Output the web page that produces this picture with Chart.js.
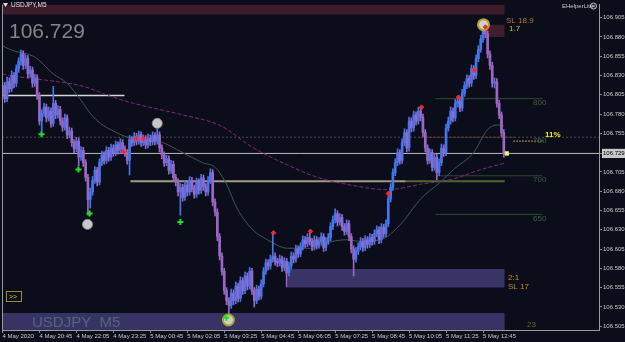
<!DOCTYPE html>
<html>
<head>
<meta charset="utf-8">
<script src="https://cdn.jsdelivr.net/npm/chart.js@4.4.0/dist/chart.umd.min.js"></script>
<style>
  html, body { margin: 0; padding: 0; background: #0c0d1b; }
  #wrap { position: relative; width: 625px; height: 342px; }
</style>
</head>
<body>
<div id="wrap"><canvas id="chart" width="625" height="342"></canvas></div>
<script>
/* ── USDJPY M5 candles, 4 May 19:25 → 5 May 13:30 ── */

const opens = [
  106.806, 106.817, 106.800, 106.822, 106.813, 106.830, 106.820, 106.839, 106.848, 106.858,
  106.843, 106.852, 106.832, 106.837, 106.820, 106.827, 106.804, 106.771, 106.781, 106.789,
  106.775, 106.784, 106.768, 106.794, 106.779, 106.786, 106.771, 106.763, 106.775, 106.753,
  106.758, 106.743, 106.735, 106.745, 106.724, 106.733, 106.717, 106.698, 106.669, 106.679,
  106.694, 106.707, 106.692, 106.717, 106.727, 106.720, 106.733, 106.724, 106.736, 106.730,
  106.740, 106.733, 106.743, 106.735, 106.730, 106.720, 106.747, 106.743, 106.751, 106.745,
  106.753, 106.743, 106.748, 106.740, 106.749, 106.744, 106.752, 106.745, 106.753, 106.736,
  106.727, 106.717, 106.722, 106.707, 106.715, 106.698, 106.692, 106.679, 106.685, 106.672,
  106.688, 106.679, 106.694, 106.684, 106.676, 106.692, 106.681, 106.697, 106.686, 106.679,
  106.694, 106.704, 106.666, 106.653, 106.621, 106.596, 106.576, 106.551, 106.538, 106.532,
  106.548, 106.538, 106.557, 106.541, 106.564, 106.551, 106.570, 106.557, 106.576, 106.551,
  106.538, 106.553, 106.544, 106.560, 106.576, 106.587, 106.583, 106.592, 106.596, 106.589,
  106.587, 106.592, 106.581, 106.589, 106.574, 106.583, 106.596, 106.592, 106.605, 106.599,
  106.608, 106.617, 106.612, 106.620, 106.615, 106.608, 106.617, 106.610, 106.615, 106.621,
  106.607, 106.615, 106.620, 106.634, 106.643, 106.651, 106.640, 106.646, 106.634, 106.628,
  106.638, 106.621, 106.605, 106.592, 106.602, 106.608, 106.615, 106.607, 106.617, 106.611,
  106.620, 106.615, 106.625, 106.630, 106.617, 106.633, 106.625, 106.638, 106.670, 106.685,
  106.704, 106.717, 106.730, 106.720, 106.743, 106.756, 106.736, 106.771, 106.762, 106.779,
  106.771, 106.784, 106.776, 106.756, 106.736, 106.720, 106.730, 106.711, 106.724, 106.704,
  106.717, 106.736, 106.730, 106.762, 106.771, 106.784, 106.775, 106.794, 106.797, 106.788,
  106.807, 106.817, 106.826, 106.820, 106.839, 106.830, 106.852, 106.864, 106.877, 106.890,
  106.884, 106.858, 106.843, 106.820, 106.822, 106.794, 106.779, 106.756
];
const highs = [
  106.823, 106.821, 106.828, 106.827, 106.836, 106.834, 106.844, 106.853, 106.863, 106.862,
  106.857, 106.856, 106.842, 106.841, 106.832, 106.831, 106.808, 106.786, 106.794, 106.793,
  106.789, 106.788, 106.816, 106.798, 106.791, 106.790, 106.775, 106.780, 106.779, 106.763,
  106.762, 106.747, 106.750, 106.749, 106.738, 106.737, 106.721, 106.702, 106.684, 106.699,
  106.712, 106.711, 106.722, 106.732, 106.731, 106.738, 106.737, 106.741, 106.740, 106.745,
  106.744, 106.748, 106.747, 106.739, 106.734, 106.752, 106.751, 106.756, 106.755, 106.758,
  106.757, 106.753, 106.752, 106.754, 106.753, 106.757, 106.756, 106.761, 106.757, 106.740,
  106.731, 106.727, 106.726, 106.720, 106.719, 106.702, 106.696, 106.690, 106.689, 106.693,
  106.692, 106.699, 106.698, 106.688, 106.697, 106.696, 106.702, 106.701, 106.690, 106.699,
  106.709, 106.708, 106.670, 106.657, 106.625, 106.600, 106.580, 106.555, 106.542, 106.553,
  106.552, 106.562, 106.561, 106.569, 106.568, 106.575, 106.574, 106.581, 106.580, 106.555,
  106.558, 106.557, 106.565, 106.581, 106.592, 106.591, 106.597, 106.625, 106.600, 106.593,
  106.597, 106.596, 106.594, 106.593, 106.588, 106.601, 106.600, 106.610, 106.609, 106.613,
  106.622, 106.621, 106.625, 106.626, 106.619, 106.622, 106.621, 106.620, 106.626, 106.625,
  106.620, 106.625, 106.639, 106.648, 106.657, 106.655, 106.651, 106.650, 106.638, 106.643,
  106.642, 106.625, 106.609, 106.607, 106.613, 106.620, 106.619, 106.622, 106.621, 106.625,
  106.624, 106.630, 106.635, 106.634, 106.638, 106.637, 106.643, 106.674, 106.690, 106.709,
  106.722, 106.735, 106.734, 106.748, 106.761, 106.760, 106.776, 106.775, 106.784, 106.783,
  106.789, 106.788, 106.780, 106.760, 106.740, 106.735, 106.734, 106.729, 106.728, 106.722,
  106.741, 106.740, 106.767, 106.776, 106.789, 106.788, 106.799, 106.802, 106.801, 106.812,
  106.822, 106.831, 106.830, 106.844, 106.843, 106.857, 106.869, 106.882, 106.896, 106.895,
  106.888, 106.862, 106.847, 106.827, 106.826, 106.798, 106.783, 106.760
];
const lows = [
  106.800, 106.795, 106.796, 106.808, 106.809, 106.814, 106.816, 106.834, 106.843, 106.838,
  106.839, 106.827, 106.828, 106.815, 106.816, 106.799, 106.766, 106.758, 106.777, 106.770,
  106.771, 106.763, 106.764, 106.774, 106.775, 106.766, 106.758, 106.759, 106.748, 106.749,
  106.738, 106.730, 106.731, 106.713, 106.720, 106.712, 106.693, 106.649, 106.658, 106.675,
  106.690, 106.687, 106.688, 106.713, 106.715, 106.716, 106.719, 106.720, 106.725, 106.726,
  106.728, 106.729, 106.730, 106.725, 106.715, 106.701, 106.738, 106.739, 106.740, 106.741,
  106.738, 106.739, 106.735, 106.736, 106.739, 106.740, 106.740, 106.741, 106.731, 106.722,
  106.712, 106.713, 106.702, 106.703, 106.693, 106.687, 106.674, 106.649, 106.667, 106.668,
  106.674, 106.675, 106.679, 106.671, 106.672, 106.676, 106.677, 106.681, 106.674, 106.675,
  106.690, 106.661, 106.648, 106.616, 106.591, 106.571, 106.546, 106.533, 106.518, 106.528,
  106.533, 106.534, 106.536, 106.537, 106.546, 106.547, 106.552, 106.553, 106.546, 106.530,
  106.534, 106.539, 106.540, 106.556, 106.572, 106.578, 106.579, 106.588, 106.584, 106.582,
  106.583, 106.576, 106.577, 106.556, 106.570, 106.579, 106.587, 106.588, 106.594, 106.595,
  106.604, 106.607, 106.608, 106.610, 106.603, 106.604, 106.605, 106.606, 106.611, 106.602,
  106.603, 106.611, 106.616, 106.630, 106.639, 106.635, 106.636, 106.629, 106.623, 106.624,
  106.616, 106.600, 106.570, 106.588, 106.598, 106.604, 106.602, 106.603, 106.606, 106.607,
  106.610, 106.611, 106.621, 106.612, 106.613, 106.620, 106.621, 106.634, 106.666, 106.681,
  106.700, 106.713, 106.715, 106.716, 106.739, 106.731, 106.732, 106.757, 106.758, 106.766,
  106.767, 106.771, 106.751, 106.731, 106.715, 106.716, 106.706, 106.707, 106.695, 106.700,
  106.713, 106.725, 106.726, 106.758, 106.767, 106.770, 106.771, 106.789, 106.783, 106.784,
  106.803, 106.813, 106.815, 106.816, 106.825, 106.826, 106.848, 106.860, 106.873, 106.879,
  106.853, 106.838, 106.815, 106.814, 106.789, 106.774, 106.751, 106.724
];
const closes = [
  106.817, 106.800, 106.822, 106.813, 106.830, 106.820, 106.839, 106.848, 106.858, 106.843,
  106.852, 106.832, 106.837, 106.820, 106.827, 106.804, 106.771, 106.781, 106.789, 106.775,
  106.784, 106.768, 106.794, 106.779, 106.786, 106.771, 106.763, 106.775, 106.753, 106.758,
  106.743, 106.735, 106.745, 106.724, 106.733, 106.717, 106.698, 106.669, 106.679, 106.694,
  106.707, 106.692, 106.717, 106.727, 106.720, 106.733, 106.724, 106.736, 106.730, 106.740,
  106.733, 106.743, 106.735, 106.730, 106.720, 106.747, 106.743, 106.751, 106.745, 106.753,
  106.743, 106.748, 106.740, 106.749, 106.744, 106.752, 106.745, 106.753, 106.736, 106.727,
  106.717, 106.722, 106.707, 106.715, 106.698, 106.692, 106.679, 106.685, 106.672, 106.688,
  106.679, 106.694, 106.684, 106.676, 106.692, 106.681, 106.697, 106.686, 106.679, 106.694,
  106.704, 106.666, 106.653, 106.621, 106.596, 106.576, 106.551, 106.538, 106.532, 106.548,
  106.538, 106.557, 106.541, 106.564, 106.551, 106.570, 106.557, 106.576, 106.551, 106.538,
  106.553, 106.544, 106.560, 106.576, 106.587, 106.583, 106.592, 106.596, 106.589, 106.587,
  106.592, 106.581, 106.589, 106.574, 106.583, 106.596, 106.592, 106.605, 106.599, 106.608,
  106.617, 106.612, 106.620, 106.615, 106.608, 106.617, 106.610, 106.615, 106.621, 106.607,
  106.615, 106.620, 106.634, 106.643, 106.651, 106.640, 106.646, 106.634, 106.628, 106.638,
  106.621, 106.605, 106.592, 106.602, 106.608, 106.615, 106.607, 106.617, 106.611, 106.620,
  106.615, 106.625, 106.630, 106.617, 106.633, 106.625, 106.638, 106.670, 106.685, 106.704,
  106.717, 106.730, 106.720, 106.743, 106.756, 106.736, 106.771, 106.762, 106.779, 106.771,
  106.784, 106.776, 106.756, 106.736, 106.720, 106.730, 106.711, 106.724, 106.704, 106.717,
  106.736, 106.730, 106.762, 106.771, 106.784, 106.775, 106.794, 106.797, 106.788, 106.807,
  106.817, 106.826, 106.820, 106.839, 106.830, 106.852, 106.864, 106.877, 106.890, 106.884,
  106.858, 106.843, 106.820, 106.822, 106.794, 106.779, 106.756, 106.729
];

// time axis: one label every 16 bars (80 min)
const timeLabels = ['4 May 2020', '4 May 20:45', '4 May 22:05', '4 May 23:25', '5 May 00:45',
  '5 May 02:05', '5 May 03:25', '5 May 04:45', '5 May 06:05', '5 May 07:25', '5 May 08:45',
  '5 May 10:05', '5 May 11:25', '5 May 12:45'];
const timeTickBars = [0, 16, 32, 48, 64, 80, 96, 112, 128, 144, 160, 176, 192, 208];

const lastPrice = 106.729;
const priceTicks = [106.905, 106.880, 106.855, 106.830, 106.805, 106.780, 106.755, lastPrice,
  106.705, 106.680, 106.655, 106.630, 106.605, 106.580, 106.555, 106.530, 106.505];

// moving averages: [bar, price]
const maGray = [[0.3,106.868],[4.8,106.862],[10.8,106.858],[15,106.852],[22,106.832],[28,106.820],
  [34,106.798],[38,106.781],[42.4,106.768],[48,106.758],[55.4,106.749],[67.5,106.745],[78,106.730],
  [86.6,106.717],[92,106.711],[96.5,106.692],[101.7,106.657],[108,106.631],[114.7,106.617],
  [123.4,106.606],[133.3,106.606],[143,106.615],[149.4,106.617],[155,106.615],[163.6,106.617],
  [172.3,106.637],[181,106.670],[189.6,106.692],[195.2,106.708],[203.9,106.730],[210,106.760],
  [214.3,106.766],[217,106.765]];
const maPurple = [[0,106.832],[5.6,106.829],[13.4,106.826],[23.8,106.822],[35,106.816],[46.8,106.803],
  [56.7,106.794],[78,106.779],[94.4,106.765],[108.2,106.737],[123.4,106.714],[136.4,106.698],
  [150.6,106.688],[166.7,106.682],[181,106.689],[195.2,106.696],[207,106.708],[217,106.716]];

// levels and zones: [fromBar, toBar, price] / [fromBar, toBar, lowPrice, highPrice]
const swingLevel = [-0.2, 52.8, 106.804];
const rangeLevelA = [55.4, 174.5, 106.693];
const rangeLevelB = [174.5, 217.4, 106.693];
const roundLevels = [106.800, 106.750, 106.700, 106.650];
const roundLabels = ['800', '750', '700', '650'];
const roundSpan = [187.4, 233.8];
const topZone = [-0.2, 217.4, 106.909, 106.922];
const slZone = [210, 217.4, 106.880, 106.896];
const demandZone = [123.4, 217.4, 106.555, 106.579];
const bottomZone = [-0.2, 217.4, 106.500, 106.522];

// signals
const pivotDots = [{x:36.8, y:106.637}, {x:67, y:106.768}];
const pivotRings = [{x:97.8, y:106.513}, {x:208.2, y:106.896}];
const buyMarks = [{x:16.9, y:106.754}, {x:32.9, y:106.708}, {x:37.7, y:106.651}, {x:77, y:106.640}, {x:96.9, y:106.516}];
const sellMarks = [{x:52.4, y:106.731}, {x:58, y:106.748}, {x:61, y:106.748}, {x:117.3, y:106.626},
  {x:133.3, y:106.628}, {x:167, y:106.677}, {x:181.4, y:106.789}, {x:197.4, y:106.802},
  {x:204.3, y:106.837}, {x:209, y:106.893}];

const BG = '#0c0d1b';
const BULL = '#4577ea';
const BEAR = '#9c67c4';
Chart.defaults.font.family = '"Liberation Sans", Arial, sans-serif';

const bars = closes.map((_, i) => i);
const candleColor = ctx => closes[ctx.dataIndex] >= opens[ctx.dataIndex] ? BULL : BEAR;

function hline(from, to, price, color, width, dash, order) {
  return { type: 'line', data: [{x: from, y: price}, {x: to, y: price}], borderColor: color,
    borderWidth: width, borderDash: dash || [], pointRadius: 0, fill: false, order };
}
function zone(z, color, order) {
  return { type: 'line', data: [{x: z[0], y: z[3]}, {x: z[1], y: z[3]}], fill: {value: z[2]},
    backgroundColor: color, borderWidth: 0, pointRadius: 0, order };
}
function marks(data, style, radius, fillColor, lineColor, lineWidth) {
  return { type: 'line', showLine: false, data, pointStyle: style, pointRadius: radius,
    backgroundColor: fillColor, borderColor: lineColor, borderWidth: lineWidth, order: 0 };
}

const decor = {
  id: 'decor',
  beforeDraw(chart) {
    const { ctx, width, height } = chart;
    ctx.save();
    ctx.fillStyle = BG;
    ctx.fillRect(0, 0, width, height);
    ctx.restore();
  },
  afterDraw(chart) {
    const { ctx, chartArea: a, scales: { x, y } } = chart;
    ctx.save();
    // left frame line
    ctx.strokeStyle = '#9a9a9a';
    ctx.lineWidth = 1;
    ctx.beginPath(); ctx.moveTo(a.left + 0.5, a.top); ctx.lineTo(a.left + 0.5, a.bottom); ctx.stroke();

    // symbol header
    ctx.fillStyle = '#e0e0e0';
    ctx.beginPath(); ctx.moveTo(3, 3); ctx.lineTo(8, 3); ctx.lineTo(5.5, 7); ctx.closePath(); ctx.fill();
    ctx.font = '6.5px "Liberation Sans"';
    ctx.textBaseline = 'middle';
    ctx.fillText('USDJPY,M5', 11, 5.5);

    ctx.fillStyle = '#c8c8c8';
    ctx.font = '6px "Liberation Sans"';
    ctx.fillText('EHelperLite', 562, 6);
    ctx.strokeStyle = '#c8c8c8';
    ctx.beginPath(); ctx.arc(593.5, 6, 3, 0, Math.PI * 2); ctx.stroke();
    ctx.beginPath(); ctx.moveTo(592, 4.5); ctx.lineTo(595, 7.5); ctx.moveTo(595, 4.5); ctx.lineTo(592, 7.5); ctx.stroke();

    // big price
    ctx.textBaseline = 'alphabetic';
    ctx.fillStyle = '#858585';
    ctx.font = '21px "Liberation Sans"';
    ctx.fillText(lastPrice.toFixed(3), 9, 38);

    // watermark in bottom zone
    ctx.fillStyle = '#55657c';
    ctx.font = '15px "Liberation Sans"';
    ctx.fillText('USDJPY  M5', 32, 327);

    // >> button
    ctx.strokeStyle = '#9a8a30';
    ctx.strokeRect(6.5, 291.5, 15, 10);
    ctx.fillStyle = '#e0d040';
    ctx.font = '7px "Liberation Sans"';
    ctx.fillText('>>', 9, 299);

    // round level labels
    ctx.font = '8px "Liberation Sans"';
    ctx.fillStyle = '#35633f';
    ctx.textBaseline = 'middle';
    roundLevels.forEach((p, i) => ctx.fillText(roundLabels[i], 533, y.getPixelForValue(p) + 4));

    // trade info texts
    ctx.font = '8px "Liberation Sans"';
    ctx.fillStyle = '#b07a26';
    ctx.fillText('SL 18.9', 506, 21);
    ctx.fillStyle = '#c4c040';
    ctx.fillText('1.7', 509, 29);
    ctx.fillStyle = '#c88a1e';
    ctx.fillText('2:1', 508, 278);
    ctx.fillText('SL 17', 508, 286.5);
    ctx.fillStyle = '#66661e';
    ctx.fillText('23', 527, 325);
    ctx.fillStyle = '#e8e82a';
    ctx.font = 'bold 8px "Liberation Sans"';
    ctx.fillText('11%', 545, 135);
    ctx.restore();
  }
};

new Chart(document.getElementById('chart'), {
  type: 'bar',
  data: {
    datasets: [
      marks(sellMarks, 'rectRot', 2.2, '#ff2020', '#ff3030', 1),
      marks(buyMarks, 'cross', 3, '#22e022', '#22e022', 2),
      marks(pivotRings, 'circle', 5.5, '#cfcfcf', '#b0a424', 2),
      marks(pivotDots, 'circle', 5, '#c8c8c8', '#8a8a8a', 1),
      marks([{x: 218.3, y: lastPrice}], 'rect', 2.5, '#f0f0b0', '#e0e040', 1),
      { type: 'bar', data: bars.map(i => ({x: i, y: [opens[i], closes[i]]})), barThickness: 2,
        grouped: false, backgroundColor: candleColor, borderWidth: 0, order: 2 },
      { type: 'bar', data: bars.map(i => ({x: i, y: [lows[i], highs[i]]})), barThickness: 1,
        grouped: false, backgroundColor: candleColor, borderWidth: 0, order: 3 },
      { type: 'line', data: maGray.map(p => ({x: p[0], y: p[1]})), borderColor: '#3c5854',
        borderWidth: 1, pointRadius: 0, fill: false, cubicInterpolationMode: 'monotone', order: 4 },
      { type: 'line', data: maPurple.map(p => ({x: p[0], y: p[1]})), borderColor: '#84287c',
        borderWidth: 1, borderDash: [4, 2], pointRadius: 0, fill: false, cubicInterpolationMode: 'monotone', order: 4 },
      hline(-0.2, 258.2, lastPrice, '#bdbdbd', 1, null, 5),
      hline(swingLevel[0], swingLevel[1], swingLevel[2], '#d6d6d6', 1.5, null, 5),
      hline(rangeLevelA[0], rangeLevelA[1], rangeLevelA[2], '#a39a82', 2, null, 5),
      hline(rangeLevelB[0], rangeLevelB[1], rangeLevelB[2], '#4d6a2c', 2, null, 5),
      hline(-0.2, 258.2, roundLevels[1], '#4c4c52', 1, [2, 2], 6),
      hline(181, 221.5, roundLevels[1], '#7a4a22', 1, [2, 2], 5),
      hline(221, 234.2, 106.745, '#a8a822', 1, [2, 1], 5),
      hline(roundSpan[0], roundSpan[1], roundLevels[0], '#2d4a32', 1, null, 6),
      hline(roundSpan[0], roundSpan[1], roundLevels[2], '#2d4a32', 1, null, 6),
      hline(roundSpan[0], roundSpan[1], roundLevels[3], '#2d4a32', 1, null, 6),
      zone(topZone, '#3b1c28', 9),
      zone(slZone, '#3f1f2d', 9),
      zone(demandZone, '#383566', 9),
      zone(bottomZone, '#373465', 9)
    ]
  },
  options: {
    responsive: false,
    animation: false,
    layout: { autoPadding: false, padding: { left: 2, top: 0, right: 0, bottom: 0 } },
    plugins: { legend: { display: false }, tooltip: { enabled: false } },
    scales: {
      x: {
        type: 'linear', min: -0.2, max: 258.2, offset: false,
        afterFit(s) { s.height = 12; },
        afterBuildTicks(s) { s.ticks = timeTickBars.map(v => ({ value: v })); },
        grid: { drawOnChartArea: false, drawTicks: true, tickLength: 3, color: '#8a8a8a', offset: false },
        border: { display: true, color: '#9a9a9a' },
        ticks: { autoSkip: false, maxRotation: 0, align: 'start', padding: 0, color: '#c8c8c8',
          font: { size: 6 }, callback: (v, i) => timeLabels[i] }
      },
      y: {
        type: 'linear', position: 'right', min: 106.5, max: 106.922, beginAtZero: false,
        afterFit(s) { s.width = 26; },
        afterBuildTicks(s) { s.ticks = priceTicks.map(v => ({ value: v })); },
        grid: { drawOnChartArea: false, drawTicks: true, tickLength: 3, color: '#8a8a8a' },
        border: { display: true, color: '#9a9a9a' },
        ticks: {
          autoSkip: false, padding: 1, font: { size: 6 },
          color: c => (c.tick && c.tick.value === lastPrice) ? '#000000' : '#c8c8c8',
          showLabelBackdrop: c => !!(c.tick && c.tick.value === lastPrice),
          backdropColor: '#c8c8c8',
          backdropPadding: { top: 1, bottom: 1, left: 1, right: 2 },
          callback: v => v.toFixed(3)
        }
      }
    }
  },
  plugins: [decor]
});
</script>
</body>
</html>
